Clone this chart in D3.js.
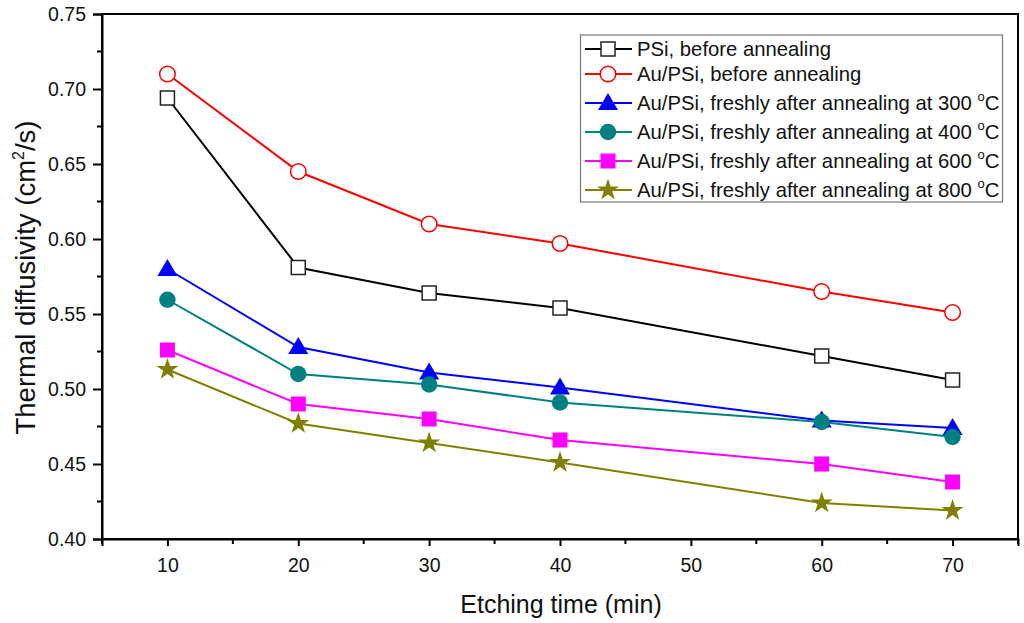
<!DOCTYPE html>
<html><head><meta charset="utf-8">
<script src="https://cdn.jsdelivr.net/npm/d3@7"></script>
<style>body{margin:0;background:#fff;}svg{display:block;font-family:"Liberation Sans",Arial,sans-serif;}</style>
</head><body>
<svg id="c" width="1024" height="623"></svg>
<script>
const times = [10, 20, 30, 40, 60, 70];
const seriesNames = [
  "PSi, before annealing",
  "Au/PSi, before annealing",
  "Au/PSi, freshly after annealing at 300 °C",
  "Au/PSi, freshly after annealing at 400 °C",
  "Au/PSi, freshly after annealing at 600 °C",
  "Au/PSi, freshly after annealing at 800 °C"
];
const psiBefore   = [0.694, 0.581, 0.564, 0.554, 0.522, 0.506];
const auBefore    = [0.710, 0.645, 0.610, 0.597, 0.565, 0.551];
const au300       = [0.580, 0.528, 0.511, 0.501, 0.479, 0.474];
const au400       = [0.5595, 0.510, 0.503, 0.491, 0.478, 0.468];
const au600       = [0.526, 0.490, 0.480, 0.466, 0.450, 0.438];
const au800       = [0.513, 0.477, 0.464, 0.451, 0.424, 0.419];
const xTicks = [10, 20, 30, 40, 50, 60, 70];
const yTicks = [0.40, 0.45, 0.50, 0.55, 0.60, 0.65, 0.70, 0.75];

const colors = ["#000000", "#ff0000", "#0000ff", "#008080", "#ff00ff", "#808000"];
const shapes = ["squareOpen", "circleOpen", "triangle", "circle", "square", "star"];
const allValues = [psiBefore, auBefore, au300, au400, au600, au800];

const svg = d3.select("#c");
const L = 102, R = 1018, T = 14, B = 539;
const x = d3.scaleLinear().domain([5, 75]).range([L, R]);
const y = d3.scaleLinear().domain([0.40, 0.75]).range([B, T]);

// frame
svg.append("rect").attr("x", L).attr("y", T).attr("width", R - L).attr("height", B - T)
  .attr("fill", "none").attr("stroke", "#000").attr("stroke-width", 2);

// axes
const xAxis = d3.axisBottom(x).tickValues(xTicks).tickSize(7).tickPadding(12).tickFormat(d3.format("d"));
const gx = svg.append("g").attr("transform", `translate(0,${B})`).call(xAxis);
gx.select(".domain").attr("stroke-width", 2);
gx.selectAll(".tick line").attr("stroke-width", 2);
gx.selectAll("text").attr("font-size", 19.5).attr("fill", "#111");
const xMinor = d3.range(5, 76, 10);
svg.append("g").selectAll("line").data(xMinor).join("line")
  .attr("x1", d => x(d)).attr("x2", d => x(d)).attr("y1", B).attr("y2", B + 5)
  .attr("stroke", "#000").attr("stroke-width", 2);

const yAxis = d3.axisLeft(y).tickValues(yTicks).tickSize(9).tickPadding(7).tickFormat(d3.format(".2f"));
const gy = svg.append("g").attr("transform", `translate(${L},0)`).call(yAxis);
gy.select(".domain").attr("stroke-width", 2);
gy.selectAll(".tick line").attr("stroke-width", 2);
gy.selectAll("text").attr("font-size", 19.5).attr("fill", "#111");
const yMinor = d3.range(0.425, 0.75, 0.05);
svg.append("g").selectAll("line").data(yMinor).join("line")
  .attr("x1", L - 5).attr("x2", L).attr("y1", d => y(d)).attr("y2", d => y(d))
  .attr("stroke", "#000").attr("stroke-width", 2);

// axis titles
svg.append("text").attr("x", 561).attr("y", 613).attr("text-anchor", "middle")
  .attr("font-size", 25).attr("fill", "#111").text("Etching time (min)");
const yt = svg.append("text").attr("transform", `translate(35,${(T + B) / 2 + 1}) rotate(-90)`)
  .attr("text-anchor", "middle").attr("font-size", 27.5).attr("fill", "#111");
yt.append("tspan").text("Thermal diffusivity (cm");
yt.append("tspan").attr("font-size", 16).attr("dy", -11).text("2");
yt.append("tspan").attr("dy", 11).text("/s)");

function drawMarker(g, shape, color, cx, cy) {
  if (shape === "squareOpen") {
    g.append("rect").attr("x", cx - 7).attr("y", cy - 7).attr("width", 14).attr("height", 14)
      .attr("fill", "#fff").attr("stroke", "#222").attr("stroke-width", 1.5);
  } else if (shape === "circleOpen") {
    g.append("circle").attr("cx", cx).attr("cy", cy).attr("r", 7.8)
      .attr("fill", "#fff").attr("stroke", color).attr("stroke-width", 1.5);
  } else if (shape === "triangle") {
    g.append("path").attr("transform", `translate(${cx},${cy})`)
      .attr("d", "M0,-10 L10,7 L-10,7 Z").attr("fill", color);
  } else if (shape === "circle") {
    g.append("circle").attr("cx", cx).attr("cy", cy).attr("r", 8.2).attr("fill", color);
  } else if (shape === "square") {
    g.append("rect").attr("x", cx - 7.5).attr("y", cy - 7.5).attr("width", 15).attr("height", 15).attr("fill", color);
  } else if (shape === "star") {
    g.append("path").attr("transform", `translate(${cx},${cy})`)
      .attr("d", d3.symbol().type(d3.symbolStar).size(150)()).attr("fill", color);
  }
}

const line = d3.line().x(d => x(d[0])).y(d => y(d[1]));
allValues.forEach((vals, i) => {
  const pts = times.map((t, j) => [t, vals[j]]);
  svg.append("path").datum(pts).attr("d", line).attr("fill", "none")
    .attr("stroke", colors[i]).attr("stroke-width", 2);
});
allValues.forEach((vals, i) => {
  const g = svg.append("g");
  times.forEach((t, j) => drawMarker(g, shapes[i], colors[i], x(t), y(vals[j])));
});

// legend
const lg = svg.append("g");
lg.append("rect").attr("x", 580.5).attr("y", 35).attr("width", 422).attr("height", 167)
  .attr("fill", "#fff").attr("stroke", "#777").attr("stroke-width", 1.2);
seriesNames.forEach((name, i) => {
  const cy = 49 + i * 29 - (i > 0 ? 4 : 0);
  lg.append("line").attr("x1", 585).attr("x2", 632).attr("y1", cy).attr("y2", cy)
    .attr("stroke", colors[i]).attr("stroke-width", 2);
  drawMarker(lg, shapes[i], colors[i], 608, cy);
  const t = lg.append("text").attr("x", 637).attr("y", cy + 7.3).attr("font-size", 20.3).attr("fill", "#111");
  const m = name.match(/^(.*) °C$/);
  if (m) {
    t.append("tspan").text(m[1] + " ");
    t.append("tspan").attr("font-size", 13).attr("dy", -9).text("o");
    t.append("tspan").attr("dy", 9).text("C");
  } else {
    t.text(name);
  }
});
</script>
</body></html>
